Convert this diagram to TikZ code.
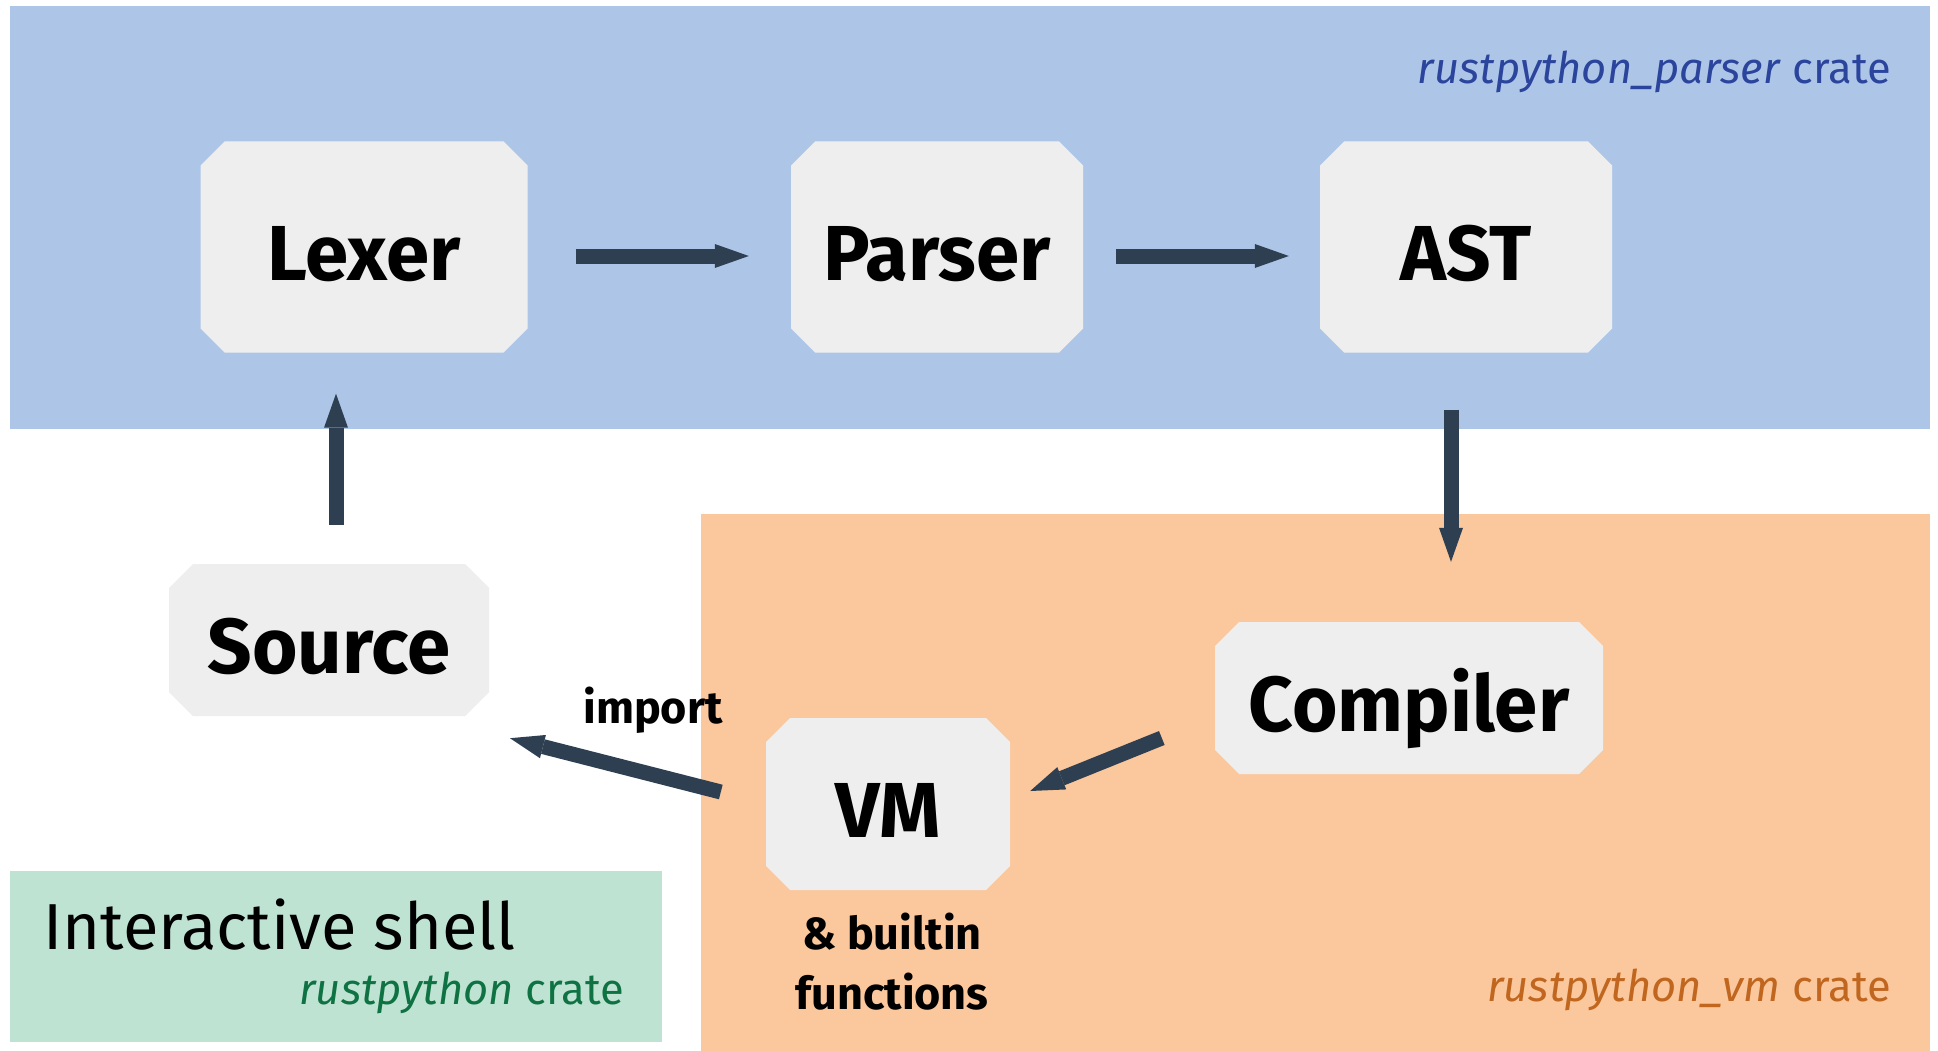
\documentclass[tikz,border=0pt]{standalone}
\usepackage{fontspec}
\setmainfont{Fira Sans}
\usetikzlibrary{arrows.meta,calc}
\definecolor{parserbg}{HTML}{ADC6E8}
\definecolor{vmbg}{HTML}{FBC79C}
\definecolor{shellbg}{HTML}{BFE3D3}
\definecolor{stagefill}{HTML}{EEEEEE}
\definecolor{arrowc}{HTML}{2E3F52}
\definecolor{parsertext}{HTML}{2B449C}
\definecolor{vmtext}{HTML}{C0661E}
\definecolor{shelltext}{HTML}{0E7243}
\begin{document}
\begin{tikzpicture}[x=1pt,y=-1pt,
  % rectangle with 24pt cut corners, filled behind the text
  stage/.style={rectangle, inner sep=0pt,
    font=\fontsize{78}{80}\selectfont\bfseries, text height=66pt, text depth=0pt,
    path picture={
      \fill[stagefill]
        ([xshift=24pt]path picture bounding box.north west)
        -- ([xshift=-24pt]path picture bounding box.north east)
        -- ([yshift=-24pt]path picture bounding box.north east)
        -- ([yshift=24pt]path picture bounding box.south east)
        -- ([xshift=-24pt]path picture bounding box.south east)
        -- ([xshift=24pt]path picture bounding box.south west)
        -- ([yshift=24pt]path picture bounding box.south west)
        -- ([yshift=-24pt]path picture bounding box.north west)
        -- cycle;}},
  flow/.style={draw=arrowc, line width=15pt,
    -{Triangle[length=34pt,width=24pt,line width=0pt]}},
  crate/.style={font=\fontsize{43.5}{50}\selectfont, anchor=base east, inner sep=0pt},
  note/.style={font=\fontsize{45}{52}\selectfont\bfseries, anchor=base, inner sep=0pt},
]
\useasboundingbox (0,0) rectangle (1938,1051);
\fill[white] (0,0) rectangle (1938,1051);

% crate regions
\fill[parserbg] (10,6) rectangle (1930,429);
\fill[vmbg] (701,514) rectangle (1930,1051);
\fill[shellbg] (10,871) rectangle (662,1042);

% pipeline stages
\node[stage, minimum width=327pt, minimum height=211pt] (lexer) at (364,247) {Lexer};
\node[stage, minimum width=292pt, minimum height=211pt] (parser) at (937,247) {Parser};
\node[stage, minimum width=292pt, minimum height=211pt] (ast) at (1466,247) {AST};
\node[stage, minimum width=320pt, minimum height=152pt] (source) at (329,640) {Source};
\node[stage, minimum width=388pt, minimum height=152pt] (compiler) at (1409,698) {Compiler};
\node[stage, minimum width=244pt, minimum height=172pt] (vm) at (888,804) {VM};

% flow between stages
\draw[flow] ($(lexer.east)+(48,9)$) -- ($(parser.west)+(-42,9)$);
\draw[flow] ($(parser.east)+(33,9)$) -- ($(ast.west)+(-31,9)$);
\draw[flow] ($(source.north)+(7,-39)$) -- ($(lexer.south)+(-28,41)$);
\draw[flow] ($(ast.south)+(-15,57)$) -- ($(compiler.north)+(42,-60)$);
\draw[flow] ($(compiler.west)+(-53,40)$) -- ($(vm.east)+(20,-13)$);
\draw[flow] ($(vm.west)+(-45,-12)$) -- ($(source.south)+(181,22)$);

% labels
\node[crate, text=parsertext] (parserlabel) at (1891,84) {\textit{rustpython\_parser} crate};
\node[crate, text=vmtext] (vmlabel) at (1891,1001) {\textit{rustpython\_vm} crate};
\node[crate, text=shelltext] (shelllabel) at (624,1004) {\textit{rustpython} crate};
\node[font=\fontsize{65}{72}\selectfont, anchor=base west, inner sep=0pt] (shell) at (43,949) {Interactive shell};
\node[note] (importlabel) at (653,723) {import};
\node[note] (builtinlabel) at (892,949) {\& builtin};
\node[note] (funclabel) at (892,1009) {functions};
\end{tikzpicture}
\end{document}
